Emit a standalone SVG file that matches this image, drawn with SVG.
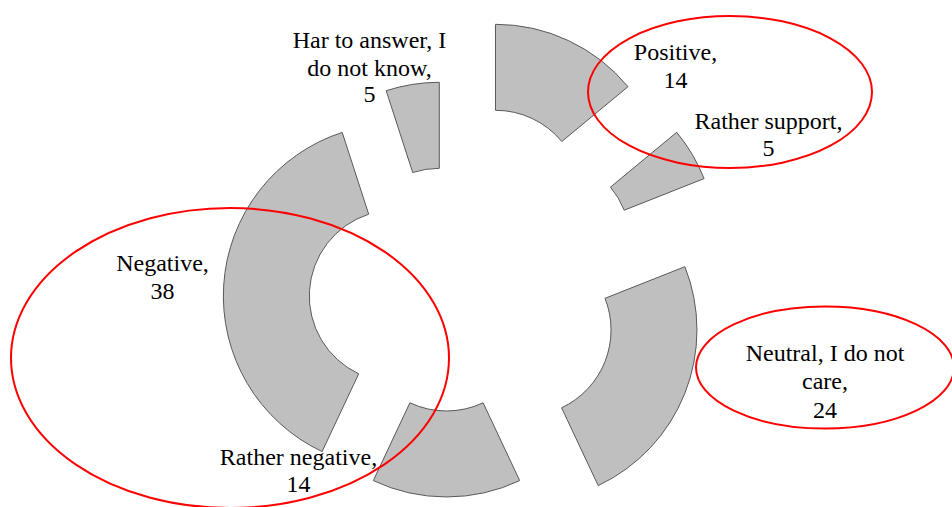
<svg xmlns="http://www.w3.org/2000/svg" width="952" height="507" viewBox="0 0 952 507">
<style>
.seg{fill:#BFBFBF;stroke:#595959;stroke-width:1}
.lbl{font-family:"Liberation Serif","Times New Roman",serif;font-size:24px;fill:#000;text-anchor:middle}
.ring{fill:none;stroke:#FF0000;stroke-width:2}
</style>
<rect width="952" height="507" fill="#fff"/>
<g id="positive">
<path class="seg" d="M495.5,24.3 A172,172 0 0 1 628.0,86.7 L561.8,141.5 A86,86 0 0 0 495.5,110.3 Z"/>
</g>
<g id="rather-support">
<path class="seg" d="M676.7,132.3 A172,172 0 0 1 704.1,178.6 L624.2,210.2 A86,86 0 0 0 610.5,187.1 Z"/>
</g>
<g id="neutral">
<path class="seg" d="M684.9,266.7 A172,172 0 0 1 598.2,485.6 L561.6,407.8 A86,86 0 0 0 605.0,298.3 Z"/>
</g>
<g id="rather-negative">
<path class="seg" d="M519.7,480.6 A172,172 0 0 1 373.3,480.6 L409.9,402.8 A86,86 0 0 0 483.1,402.8 Z"/>
</g>
<g id="negative">
<path class="seg" d="M322.1,451.6 A172,172 0 0 1 342.2,132.4 L368.7,214.2 A86,86 0 0 0 358.7,373.8 Z"/>
</g>
<g id="hard-to-answer">
<path class="seg" d="M386.2,90.7 A172,172 0 0 1 439.3,82.3 L439.3,168.3 A86,86 0 0 0 412.7,172.5 Z"/>
</g>
<g id="highlights">
<ellipse class="ring" cx="730" cy="92" rx="142" ry="76"/>
<ellipse class="ring" cx="230" cy="358" rx="219" ry="150"/>
<ellipse class="ring" cx="825" cy="367.5" rx="129" ry="61"/>
</g>
<g id="labels">
<text class="lbl" x="369.5" y="48">Har to answer, I</text>
<text class="lbl" x="369.5" y="75.5">do not know,</text>
<text class="lbl" x="369.5" y="102">5</text>
<text class="lbl" x="675.5" y="60">Positive,</text>
<text class="lbl" x="675.5" y="87.5">14</text>
<text class="lbl" x="768.5" y="128.5">Rather support,</text>
<text class="lbl" x="768.5" y="156">5</text>
<text class="lbl" x="825" y="361">Neutral, I do not</text>
<text class="lbl" x="825" y="389">care,</text>
<text class="lbl" x="825" y="417.5">24</text>
<text class="lbl" x="162.5" y="271">Negative,</text>
<text class="lbl" x="162.5" y="299">38</text>
<text class="lbl" x="298.5" y="464.5">Rather negative,</text>
<text class="lbl" x="298.5" y="492">14</text>
</g>
</svg>
